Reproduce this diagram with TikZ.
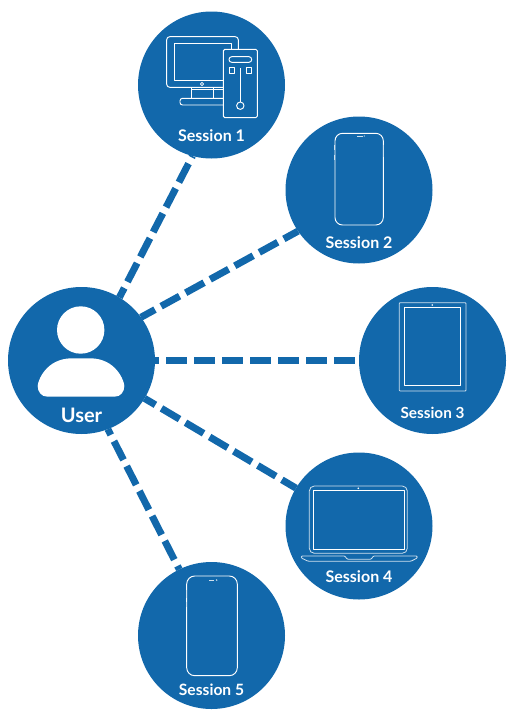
\documentclass[tikz,border=0pt]{standalone}
\usepackage{fontspec}
\setmainfont{Lato}
\usetikzlibrary{backgrounds}
\definecolor{sessblue}{HTML}{1268AB}
\tikzset{
  hub/.style={circle,fill=sessblue,draw=none,minimum size=147pt,inner sep=0pt,outer sep=0pt},
  link/.style={draw=sessblue,line width=7pt,dash pattern=on 21pt off 7pt},
  lab/.style={text=white,font=\bfseries\fontsize{16}{16}\selectfont,inner sep=0pt},
  icon/.style={draw=white,line width=0.95pt,line join=round},
  thinicon/.style={draw=white!80!sessblue,line width=0.8pt,line join=round},
  solidwhite/.style={fill=white,draw=none}
}
\begin{document}
\begin{tikzpicture}[x=1pt,y=-1pt]
\useasboundingbox (0,0) rectangle (511,720);
\node[hub] (user) at (81.5,360.5) {};
\node[hub] (s1) at (211.5,85) {};
\node[hub] (s2) at (359,190) {};
\node[hub] (s3) at (432.5,360.5) {};
\node[hub] (s4) at (359,526) {};
\node[hub] (s5) at (211.5,635.5) {};
\begin{scope}[on background layer]
\draw[link,dash phase=10.3pt] (user.59) -- (s1.255);
\draw[link,dash phase=5pt] (user.36) -- (s2.214.5);
\draw[link,dash phase=17pt] (user.0) -- (s3.180);
\draw[link,dash phase=8.3pt] (user.-31) -- (s4.149);
\draw[link,dash phase=14.5pt] (user.-69) -- (s5.116);
\end{scope}
% labels
\node[lab,font=\bfseries\fontsize{20}{20}\selectfont] (tu) at (81.5,415) {User};
\node[lab] (t1) at (211.5,136) {Session 1};
\node[lab] (t2) at (359,242.5) {Session 2};
\node[lab,font=\bfseries\fontsize{15.3}{16}\selectfont] (t3) at (432.5,412.5) {Session 3};
\node[lab] (t4) at (359,576.5) {Session 4};
\node[lab,font=\bfseries\fontsize{15.6}{16}\selectfont] (t5) at (211.5,689.5) {Session 5};
% user icon
\fill[solidwhite] (80.7,330) circle (23.7);
\fill[solidwhite] (47.5,396.7) .. controls (41,396.7) and (37.7,391.5) .. (37.7,386)
  .. controls (37.7,381) and (46,358.3) .. (72,358.3) -- (90,358.3)
  .. controls (116,358.3) and (124.3,381) .. (124.3,386)
  .. controls (124.3,391.5) and (121,396.7) .. (114.5,396.7) -- cycle;
% session 1: desktop
\draw[icon,rounded corners=3pt] (223.3,87.3) -- (166.7,87.3) -- (166.7,36.7) -- (238.3,36.7) -- (238.3,49.3);
\draw[icon] (223.3,80) -- (174.3,80) -- (174.3,43.3) -- (231,43.3) -- (231,49.3);
\draw[icon,line width=.8pt] (202,84) circle (1.6);
\draw[icon] (191.7,87.3) -- (191.7,98.3) (213.3,87.3) -- (213.3,98.3) (191.7,89.5) -- (223.3,89.5);
\draw[icon,rounded corners=2.5pt] (223.3,98.3) -- (180,98.3) -- (180,105) -- (223.3,105);
\draw[icon,rounded corners=1.5pt] (223.3,49.3) rectangle (257.3,117.7);
\draw[icon,rounded corners=2.7pt] (229,56.7) rectangle (251.7,62.3);
\draw[icon] (229,67.7) rectangle (234.5,73.3) (246,67.7) rectangle (251.7,73.3);
\draw[icon] (240.3,68.3) -- (240.3,102);
\draw[icon] (240.3,105.7) circle (3.7);
% session 2: phone
\draw[icon,rounded corners=7.5pt] (335,133.3) rectangle (383.3,225);
\draw[thinicon] (334.3,144.5) -- (334.3,150) (334.3,154.5) -- (334.3,160) (383.8,144.5) -- (383.8,157);
\draw[thinicon] (357.3,136) -- (362.5,136);
\fill[white!85!sessblue] (364.2,136) circle (.7);
% session 3: tablet
\draw[thinicon,rounded corners=.8pt] (399.3,302.7) rectangle (466,391);
\draw[icon] (404.3,307) rectangle (460.7,385.7);
\fill[white] (432.3,305) circle (.9);
% session 4: laptop
\draw[thinicon,rounded corners=5pt] (309.3,486) rectangle (407.3,553.3);
\draw[icon] (313.3,490) rectangle (404,549);
\fill[white] (358.3,488.3) circle (.9);
\draw[thinicon,rounded corners=1pt] (345,556) -- (347,559.2) -- (371.3,559.2) -- (373.3,556) -- (417.3,556) -- (417.3,558) -- (411,561.2) -- (308,561.2) -- (301.3,558) -- (301.3,556) -- cycle;
% session 5: phone
\draw[icon,rounded corners=8pt] (186.7,576) rectangle (237.3,675.7);
\draw[thinicon] (186,590) -- (186,598) (186,602) -- (186,607);
\draw[thinicon] (209,580) -- (214,580);
\fill[white!85!sessblue] (216.7,580) circle (.8);
\end{tikzpicture}
\end{document}
